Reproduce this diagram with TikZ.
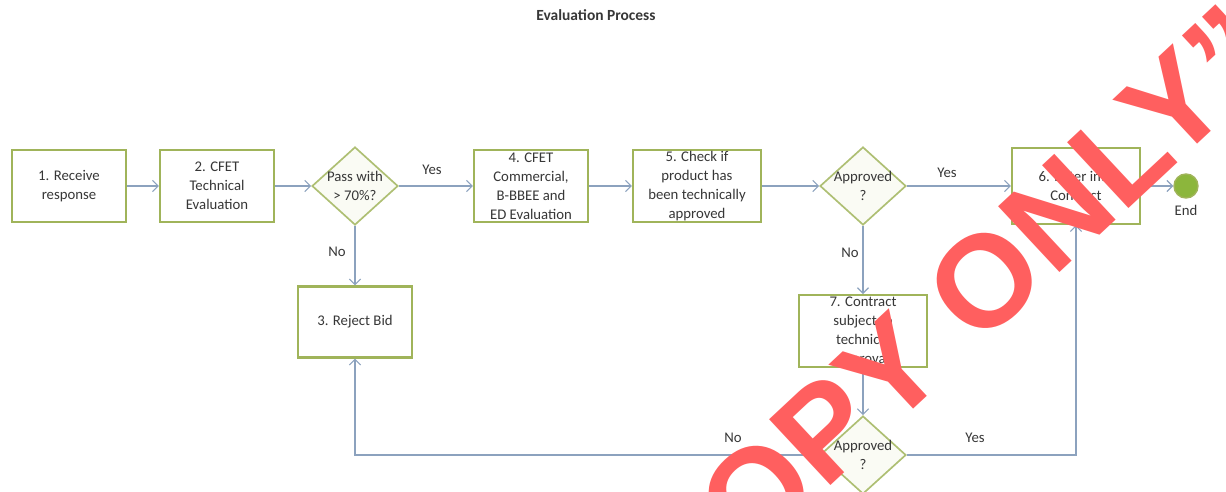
\documentclass[tikz,border=0pt]{standalone}
\usepackage{fontspec}
\setmainfont{Carlito}
\newfontfamily\wmfont{Liberation Sans}
\usepackage{xcolor}
\usetikzlibrary{shapes.geometric,arrows.meta}
\definecolor{linkblue}{RGB}{140,162,190}
\definecolor{boxgreen}{RGB}{160,180,90}
\definecolor{endgreen}{RGB}{140,182,60}
\definecolor{creme}{RGB}{250,251,244}
\definecolor{txtgrey}{RGB}{55,55,55}
\definecolor{wmred}{RGB}{255,95,95}
\newcommand\txtfont{\fontsize{10.5}{13.5}\selectfont}

\begin{document}
\begin{tikzpicture}[x=0.025cm, y=-0.025cm,
    box/.style={rectangle, draw=boxgreen, line width=1.5pt, fill=white,
      minimum width=2.85cm, minimum height=1.8cm, inner sep=1pt,
      align=center, font=\txtfont, text=txtgrey},
    wide/.style={box, minimum width=3.2cm},
    choice/.style={diamond, draw=boxgreen!85, line width=1.2pt, fill=creme,
      minimum width=2.15cm, minimum height=1.95cm, inner sep=0pt},
    lbl/.style={font=\txtfont, text=txtgrey},
    link/.style={draw=linkblue, line width=0.8pt, ->},
    >={Straight Barb[length=4pt,width=8pt]}]

  \useasboundingbox (0,0) rectangle (1226,492);
  \clip (0,0) rectangle (1226,492);

  \node[font=\bfseries\fontsize{11}{13}\selectfont, text=txtgrey] (title) at (596,15) {Evaluation Process};

  \node[box] (rec) at (69,186) {1. Receive\\response};
  \node[box] (tech) at (217,186) {2. CFET\\Technical\\Evaluation};
  \node[choice, label={[lbl, align=center]center:Pass with\\> 70\%?}] (pass) at (355,186) {};
  \node[box] (comm) at (531,186) {4. CFET\\Commercial,\\B-BBEE and\\ED Evaluation};
  \node[wide] (chk) at (697,186) {5. Check if\\product has\\been technically\\approved};
  \node[choice, label={[lbl, align=center]center:Approved\\?}] (ap1) at (863,186) {};
  \node[wide, minimum height=1.9cm] (enter) at (1076,186) {6. Enter into\\Contract};
  \node[circle, draw=boxgreen, line width=1pt, fill=endgreen, minimum size=0.6cm, inner sep=0pt] (done) at (1186,186) {};
  \node[lbl] (endlbl) at (1186,210) {End};
  \node[box, minimum height=1.775cm] (rej) at (355,322) {3. Reject Bid};
  \node[wide, minimum height=1.775cm] (sub) at (863,331) {7. Contract\\subject to\\technical\\approval};
  \node[choice, label={[lbl, align=center]center:Approved\\?}] (ap2) at (863,455) {};

  \draw[link] (rec) -- (tech);
  \draw[link] (tech) -- (pass);
  \draw[link] (pass) -- (comm);
  \draw[link] (comm) -- (chk);
  \draw[link] (chk) -- (ap1);
  \draw[link] (ap1) -- (enter);
  \draw[link] (enter) -- (done);
  \draw[link] (pass) -- (rej);
  \draw[link] (ap1) -- (sub);
  \draw[link] (sub) -- (ap2);
  \draw[link] (ap2.west) -| (rej.south);
  \draw[link] (ap2.east) -| (enter.south);

  \node[lbl] (y1) at (432,170) {Yes};
  \node[lbl] (n1) at (337,252) {No};
  \node[lbl] (y2) at (947,173) {Yes};
  \node[lbl] (n2) at (850,253) {No};
  \node[lbl] (n3) at (733,438) {No};
  \node[lbl] (y3) at (975,438) {Yes};

  \node[rotate=43, text=wmred, inner sep=0pt, font=\wmfont\bfseries\fontsize{93}{93}\selectfont] (wm) at (928,334) {“COPY ONLY”};
\end{tikzpicture}
\end{document}
